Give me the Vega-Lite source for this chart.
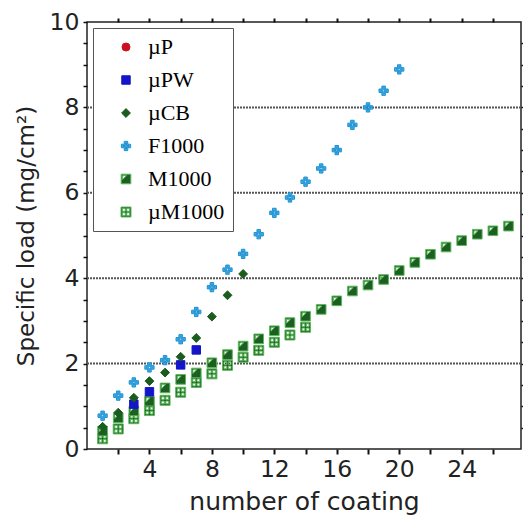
{
  "$schema": "https://vega.github.io/schema/vega-lite/v6.json",
  "width": 434,
  "height": 427,
  "autosize": {"type": "none"},
  "padding": {"left": 87, "top": 22, "right": 2, "bottom": 71},
  "background": "white",
  "config": {
    "view": {"stroke": "#222", "strokeWidth": 1.5},
    "axis": {
      "domain": false,
      "labelFont": "DejaVu Sans",
      "titleFont": "DejaVu Sans",
      "labelColor": "#222",
      "titleColor": "#222",
      "titleFontWeight": "normal",
      "labelFlush": false,
      "labelOverlap": false
    }
  },
  "resolve": {"axis": {"x": "independent", "y": "independent"}},
  "layer": [
    {
      "data": {"values": [{"level": 2}, {"level": 4}, {"level": 6}, {"level": 8}]},
      "mark": {"type": "rule", "color": "#555", "strokeWidth": 2, "strokeDash": [2, 1]},
      "encoding": {
        "y": {
          "field": "level", "type": "quantitative",
          "scale": {"domain": [0, 10], "nice": false, "zero": false},
          "axis": {"orient": "right", "title": null, "labels": false, "grid": false, "tickColor": "#111", "tickSize": 3, "tickWidth": 1.5,
            "values": [0.5,1,1.5,2,2.5,3,3.5,4,4.5,5,5.5,6,6.5,7,7.5,8,8.5,9,9.5]}
        },
        "x": {
          "datum": 0, "type": "quantitative",
          "scale": {"domain": [0, 27.8], "nice": false, "zero": false},
          "axis": {"orient": "top", "title": null, "labels": false, "grid": false, "tickColor": "#111", "tickSize": 4, "tickWidth": 2,
            "values": [2,4,6,8,10,12,14,16,18,20,22,24,26]}
        },
        "x2": {"datum": 27.8}
      }
    },
    {
      "data": {"values": [
        {"series": "µM1000", "n": 1, "load": 0.24},
        {"series": "µM1000", "n": 2, "load": 0.47},
        {"series": "µM1000", "n": 3, "load": 0.71},
        {"series": "µM1000", "n": 4, "load": 0.90},
        {"series": "µM1000", "n": 5, "load": 1.14},
        {"series": "µM1000", "n": 6, "load": 1.33},
        {"series": "µM1000", "n": 7, "load": 1.56},
        {"series": "µM1000", "n": 8, "load": 1.76},
        {"series": "µM1000", "n": 9, "load": 1.96},
        {"series": "µM1000", "n": 10, "load": 2.15},
        {"series": "µM1000", "n": 11, "load": 2.31},
        {"series": "µM1000", "n": 12, "load": 2.50},
        {"series": "µM1000", "n": 13, "load": 2.67},
        {"series": "µM1000", "n": 14, "load": 2.85},
        {"series": "M1000", "n": 1, "load": 0.42},
        {"series": "M1000", "n": 2, "load": 0.73},
        {"series": "M1000", "n": 3, "load": 0.89},
        {"series": "M1000", "n": 4, "load": 1.12},
        {"series": "M1000", "n": 5, "load": 1.43},
        {"series": "M1000", "n": 6, "load": 1.63},
        {"series": "M1000", "n": 7, "load": 1.78},
        {"series": "M1000", "n": 8, "load": 2.02},
        {"series": "M1000", "n": 9, "load": 2.21},
        {"series": "M1000", "n": 10, "load": 2.41},
        {"series": "M1000", "n": 11, "load": 2.58},
        {"series": "M1000", "n": 12, "load": 2.77},
        {"series": "M1000", "n": 13, "load": 2.96},
        {"series": "M1000", "n": 14, "load": 3.11},
        {"series": "M1000", "n": 15, "load": 3.27},
        {"series": "M1000", "n": 16, "load": 3.47},
        {"series": "M1000", "n": 17, "load": 3.70},
        {"series": "M1000", "n": 18, "load": 3.84},
        {"series": "M1000", "n": 19, "load": 3.97},
        {"series": "M1000", "n": 20, "load": 4.18},
        {"series": "M1000", "n": 21, "load": 4.37},
        {"series": "M1000", "n": 22, "load": 4.56},
        {"series": "M1000", "n": 23, "load": 4.73},
        {"series": "M1000", "n": 24, "load": 4.88},
        {"series": "M1000", "n": 25, "load": 5.03},
        {"series": "M1000", "n": 26, "load": 5.11},
        {"series": "M1000", "n": 27, "load": 5.22},
        {"series": "µPW", "n": 3, "load": 1.05},
        {"series": "µPW", "n": 4, "load": 1.34},
        {"series": "µPW", "n": 6, "load": 1.97},
        {"series": "µPW", "n": 7, "load": 2.32},
        {"series": "µCB", "n": 1, "load": 0.52},
        {"series": "µCB", "n": 2, "load": 0.85},
        {"series": "µCB", "n": 3, "load": 1.20},
        {"series": "µCB", "n": 4, "load": 1.59},
        {"series": "µCB", "n": 5, "load": 1.79},
        {"series": "µCB", "n": 6, "load": 2.16},
        {"series": "µCB", "n": 7, "load": 2.60},
        {"series": "µCB", "n": 8, "load": 3.10},
        {"series": "µCB", "n": 9, "load": 3.60},
        {"series": "µCB", "n": 10, "load": 4.10},
        {"series": "F1000", "n": 1, "load": 0.78},
        {"series": "F1000", "n": 2, "load": 1.25},
        {"series": "F1000", "n": 3, "load": 1.56},
        {"series": "F1000", "n": 4, "load": 1.91},
        {"series": "F1000", "n": 5, "load": 2.08},
        {"series": "F1000", "n": 6, "load": 2.57},
        {"series": "F1000", "n": 7, "load": 3.21},
        {"series": "F1000", "n": 8, "load": 3.79},
        {"series": "F1000", "n": 9, "load": 4.20},
        {"series": "F1000", "n": 10, "load": 4.57},
        {"series": "F1000", "n": 11, "load": 5.03},
        {"series": "F1000", "n": 12, "load": 5.53},
        {"series": "F1000", "n": 13, "load": 5.89},
        {"series": "F1000", "n": 14, "load": 6.26},
        {"series": "F1000", "n": 15, "load": 6.57},
        {"series": "F1000", "n": 16, "load": 7.00},
        {"series": "F1000", "n": 17, "load": 7.59},
        {"series": "F1000", "n": 18, "load": 8.00},
        {"series": "F1000", "n": 19, "load": 8.39},
        {"series": "F1000", "n": 20, "load": 8.89}
      ]},
      "mark": {"type": "point", "filled": true, "opacity": 1, "strokeWidth": 1},
      "encoding": {
        "x": {
          "field": "n", "type": "quantitative",
          "scale": {"domain": [0, 27.8], "nice": false, "zero": false},
          "axis": {"orient": "bottom", "title": "number of coating", "titleFontSize": 25, "titlePadding": 9,
            "labelFontSize": 23.5, "labelPadding": 3, "grid": false, "tickColor": "#111", "tickSize": 5, "tickWidth": 2,
            "values": [2,4,6,8,10,12,14,16,18,20,22,24,26],
            "labelExpr": "datum.value % 4 === 0 ? format(datum.value, 'd') : ''"}
        },
        "y": {
          "field": "load", "type": "quantitative",
          "scale": {"domain": [0, 10], "nice": false, "zero": false},
          "axis": {"orient": "left", "title": "Specific load (mg/cm²)", "titleFontSize": 23, "titlePadding": 11,
            "labelFontSize": 23.5, "labelPadding": 4, "grid": false, "tickColor": "#111", "tickSize": 4, "tickWidth": 1.5,
            "values": [0,0.5,1,1.5,2,2.5,3,3.5,4,4.5,5,5.5,6,6.5,7,7.5,8,8.5,9,9.5,10],
            "labelExpr": "datum.value % 2 === 0 ? format(datum.value, 'd') : ''"}
        },
        "fill": {
          "field": "series", "type": "nominal",
          "scale": {"domain": ["µP", "µPW", "µCB", "F1000", "M1000", "µM1000"],
                    "range": ["#cc1020", "#1414c8", "#1a5c1e", "#41b4ea", "#1d5e22", "#1d5e22"]},
          "legend": {
            "title": null, "orient": "top-left", "offset": 6,
            "fillColor": "white", "strokeColor": "#555", "padding": 8,
            "labelFont": "Liberation Serif", "labelFontSize": 22, "rowPadding": 11,
            "symbolOffset": 14, "labelOffset": 11, "symbolStrokeWidth": 1,
            "encode": {
              "labels": {"update": {"fill": {"signal": "datum.value === 'µP' ? '#b0303a' : datum.value === 'µPW' ? '#3a3aa0' : datum.value === 'F1000' ? '#6bbde0' : datum.value === 'µM1000' ? '#4a7a4a' : '#2e5e2e'"}}}
            }
          }
        },
        "stroke": {
          "field": "series", "type": "nominal",
          "scale": {"domain": ["µP", "µPW", "µCB", "F1000", "M1000", "µM1000"],
                    "range": ["#cc1020", "#1414c8", "#1a5c1e", "#1e8fd0", "#5cb85c", "#5cb85c"]}
        },
        "shape": {
          "field": "series", "type": "nominal",
          "scale": {"domain": ["µP", "µPW", "µCB", "F1000", "M1000", "µM1000"],
                    "range": [
                      "circle",
                      "square",
                      "diamond",
                      "M-0.38,-1H0.38V-0.38H1V0.38H0.38V1H-0.38V0.38H-1V-0.38H-0.38ZM-0.1,-0.65V-0.1H-0.65V0.1H-0.1V0.65H0.1V0.1H0.65V-0.1H0.1V-0.65Z",
                      "M-1,-1H1V1H-1ZM-0.7,-0.7V0.1L0.1,-0.7Z",
                      "M-1,-1H1V1H-1ZM-0.7,-0.7V-0.15H-0.15V-0.7ZM0.15,-0.7V-0.15H0.7V-0.7ZM-0.7,0.15V0.7H-0.15V0.15ZM0.15,0.15V0.7H0.7V0.15Z"
                    ]}
        },
        "size": {
          "field": "series", "type": "nominal",
          "scale": {"domain": ["µP", "µPW", "µCB", "F1000", "M1000", "µM1000"],
                    "range": [64, 100, 200, 225, 110, 110]}
        }
      }
    }
  ]
}
